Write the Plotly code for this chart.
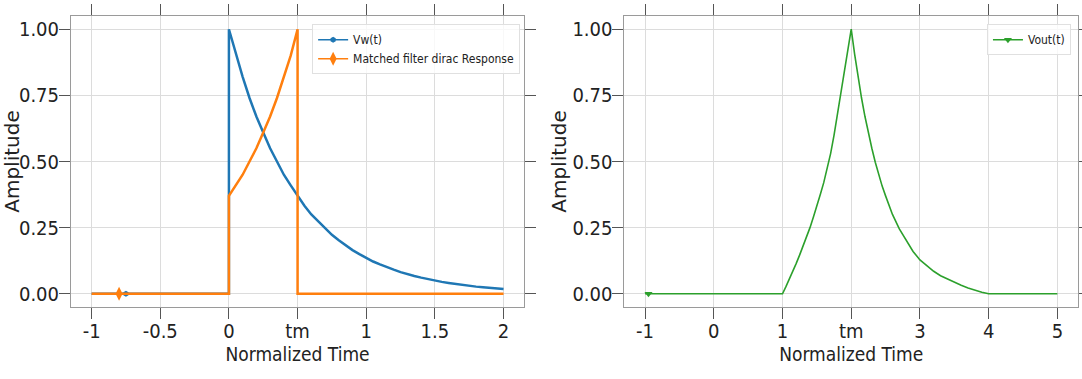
import plotly.graph_objects as go

# ---------------- data ----------------
# Left panel: Vw(t) and matched filter dirac response
vw_t = [-1.0, -0.75, 0.0, 0.0, 0.05, 0.1, 0.15, 0.2, 0.25, 0.3, 0.35, 0.4, 0.45, 0.5,
        0.55, 0.6, 0.65, 0.7, 0.75, 0.8, 0.85, 0.9, 0.95, 1.0, 1.05, 1.1, 1.15, 1.2,
        1.25, 1.3, 1.35, 1.4, 1.45, 1.5, 1.55, 1.6, 1.65, 1.7, 1.75, 1.8, 1.85, 1.9,
        1.95, 2.0]
vw_v = [0.0, 0.0, 0.0, 1.0, 0.905, 0.82, 0.74, 0.67, 0.61, 0.55, 0.50, 0.45, 0.41, 0.37,
        0.333, 0.30, 0.273, 0.247, 0.223, 0.202, 0.183, 0.165, 0.15, 0.135, 0.122, 0.111,
        0.10, 0.091, 0.082, 0.074, 0.067, 0.061, 0.055, 0.05, 0.045, 0.041, 0.037, 0.033,
        0.03, 0.027, 0.025, 0.022, 0.02, 0.018]
vw_marker_idx = 1

mf_t = [-1.0, -0.8, 0.0, 0.0, 0.05, 0.1, 0.15, 0.2, 0.25, 0.3, 0.35, 0.4, 0.45, 0.5,
        0.5, 2.0]
mf_v = [0.0, 0.0, 0.0, 0.37, 0.41, 0.45, 0.50, 0.55, 0.61, 0.67, 0.74, 0.82, 0.90, 1.0,
        0.0, 0.0]
mf_marker_idx = 1

# Right panel: Vout(t)
vout_t = [-1.0, -0.95, 0.0, 1.0, 1.05, 1.1, 1.15, 1.2, 1.25, 1.3, 1.35, 1.4, 1.45, 1.5,
          1.55, 1.6, 1.65, 1.7, 1.75, 1.8, 1.85, 1.9, 1.95, 2.0, 2.05, 2.1, 2.15, 2.2,
          2.25, 2.3, 2.35, 2.4, 2.45, 2.5, 2.6, 2.7, 2.8, 2.9, 3.0, 3.1, 3.2, 3.3, 3.4,
          3.5, 3.6, 3.7, 3.8, 3.9, 4.0, 5.0]
vout_v = [0.0, 0.0, 0.0, 0.0, 0.027, 0.055, 0.085, 0.115, 0.147, 0.18, 0.215, 0.25, 0.29,
          0.33, 0.375, 0.42, 0.475, 0.53, 0.60, 0.68, 0.76, 0.83, 0.91, 1.0, 0.905, 0.82,
          0.74, 0.67, 0.607, 0.55, 0.497, 0.45, 0.407, 0.37, 0.30, 0.245, 0.20, 0.16,
          0.128, 0.105, 0.085, 0.068, 0.055, 0.043, 0.032, 0.022, 0.013, 0.006, 0.0, 0.0]
vout_marker_idx = 1

left_tickvals = [-1, -0.5, 0, 0.5, 1, 1.5, 2]
left_ticktext = ["-1", "-0.5", "0", "tm", "1", "1.5", "2"]
right_tickvals = [-1, 0, 1, 2, 3, 4, 5]
right_ticktext = ["-1", "0", "1", "tm", "3", "4", "5"]
y_tickvals = [0, 0.25, 0.5, 0.75, 1.0]

BLUE, ORANGE, GREEN = "#1f77b4", "#ff7f0e", "#2ca02c"
NARROW = "DejaVu Sans Condensed, Roboto, sans-serif"

fig = go.Figure()

# Left panel lines
fig.add_trace(go.Scatter(x=vw_t, y=vw_v, mode="lines", line=dict(color=BLUE, width=2.5),
                         showlegend=False, xaxis="x", yaxis="y"))
fig.add_trace(go.Scatter(x=[vw_t[vw_marker_idx]], y=[vw_v[vw_marker_idx]], mode="lines+markers",
                         name="Vw(t)", line=dict(color=BLUE, width=1.5),
                         marker=dict(symbol="hexagon", size=6, color=BLUE),
                         legend="legend", xaxis="x", yaxis="y"))
fig.add_trace(go.Scatter(x=mf_t, y=mf_v, mode="lines", line=dict(color=ORANGE, width=2.5),
                         showlegend=False, xaxis="x", yaxis="y"))
fig.add_trace(go.Scatter(x=[mf_t[mf_marker_idx]], y=[mf_v[mf_marker_idx]], mode="lines+markers",
                         name="Matched filter dirac Response", line=dict(color=ORANGE, width=1.5),
                         marker=dict(symbol="diamond-tall", size=10, color=ORANGE),
                         legend="legend", xaxis="x", yaxis="y"))

# Right panel
fig.add_trace(go.Scatter(x=vout_t, y=vout_v, mode="lines", line=dict(color=GREEN, width=1.6),
                         showlegend=False, xaxis="x2", yaxis="y2"))
fig.add_trace(go.Scatter(x=[vout_t[vout_marker_idx]], y=[vout_v[vout_marker_idx]], mode="lines+markers",
                         name="Vout(t)", line=dict(color=GREEN, width=1.5),
                         marker=dict(symbol="triangle-down", size=7, color=GREEN),
                         legend="legend2", xaxis="x2", yaxis="y2"))

axis_common = dict(
    showline=True, linecolor="#9a9a9a", linewidth=1, mirror="ticks",
    ticks="outside", ticklen=11, tickwidth=1.3, tickcolor="#555555",
    showgrid=True, gridcolor="#dcdcdc", gridwidth=1, zeroline=False, automargin=False,
    tickfont=dict(family=NARROW, size=20, color="#222222"),
)
xtitle_font = dict(family=NARROW, size=19, color="#222222")
ytitle_font = dict(family="DejaVu Sans", size=20, color="#222222")

fig.update_layout(
    width=1082, height=379,
    margin=dict(l=71, r=4, t=16, b=72),
    paper_bgcolor="white", plot_bgcolor="white",
    xaxis=dict(domain=[0, 0.45], range=[-1.15, 2.15], tickvals=left_tickvals, ticktext=left_ticktext,
               title=dict(text="Normalized Time", font=xtitle_font, standoff=5),
               ticklabelstandoff=-5, anchor="y", **axis_common),
    yaxis=dict(domain=[0, 1], range=[-0.05, 1.05], tickvals=y_tickvals, tickformat=".2f",
               title=dict(text="Amplitude", font=ytitle_font, standoff=0),
               ticklabelstandoff=-4, anchor="x", **axis_common),
    xaxis2=dict(domain=[0.5496, 1.0], range=[-1.3, 5.3], tickvals=right_tickvals, ticktext=right_ticktext,
                title=dict(text="Normalized Time", font=xtitle_font, standoff=5),
                ticklabelstandoff=-5, anchor="y2", **axis_common),
    yaxis2=dict(domain=[0, 1], range=[-0.05, 1.05], tickvals=y_tickvals, tickformat=".2f",
                title=dict(text="Amplitude", font=ytitle_font, standoff=0),
                ticklabelstandoff=-4, anchor="x2", **axis_common),
    legend=dict(x=0.446, xanchor="right", y=0.972, yanchor="top",
                bgcolor="rgba(255,255,255,0.8)", bordercolor="#e0e0e0", borderwidth=1,
                font=dict(family=NARROW, size=12, color="#222222"), itemwidth=30),
    legend2=dict(x=0.993, xanchor="right", y=0.972, yanchor="top",
                 bgcolor="rgba(255,255,255,0.8)", bordercolor="#e0e0e0", borderwidth=1,
                 font=dict(family=NARROW, size=12, color="#222222"), itemwidth=30),
)

fig.write_html("out.html", config={"displayModeBar": False},
               post_script="document.body.style.margin='0';")
